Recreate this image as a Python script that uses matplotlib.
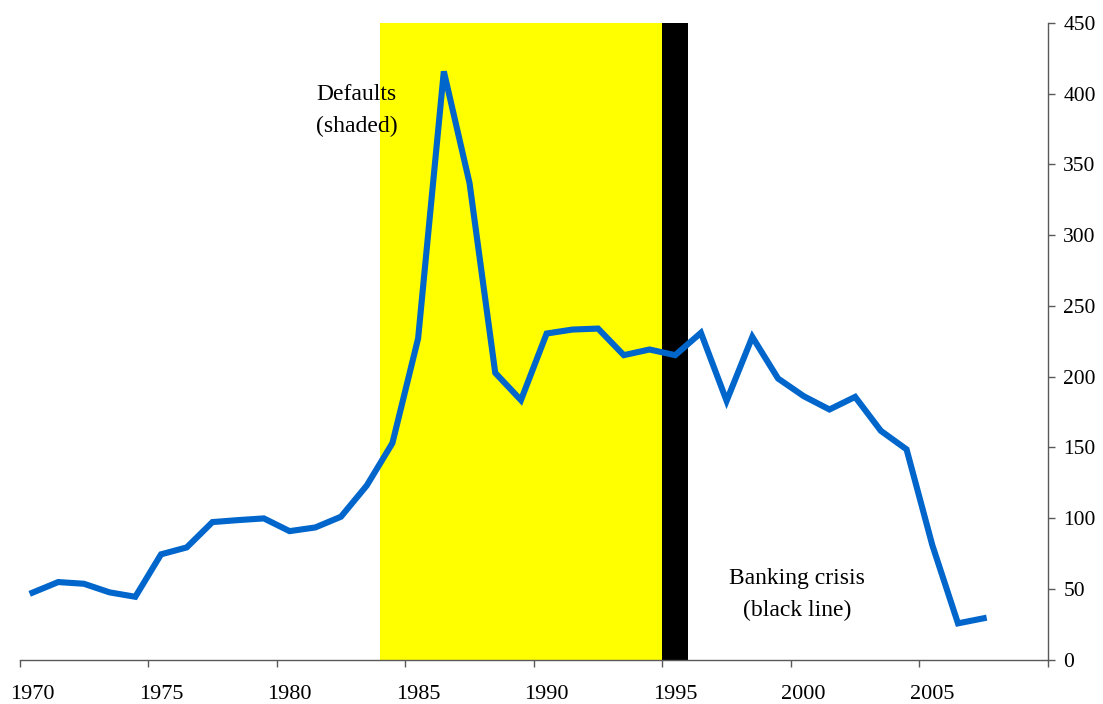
import matplotlib.pyplot as plt
import numpy as np

# Data
years = list(range(1970, 2008))
values = [47.3, 54.8, 53.6, 47.5, 44.4, 74.4, 79.3, 97.2, 98.6, 99.8,
          90.8, 93.4, 101.0, 123.0, 153.0, 227.0, 415.8, 336.9, 202.7, 183.4,
          230.5, 233.3, 234.0, 215.2, 219.2, 215.2, 231.0, 182.9, 228.1, 198.7,
          186.2, 176.8, 185.7, 161.7, 148.6, 81.0, 25.6, 29.2]
default_years = list(range(1984, 1995))   # shaded yellow
crisis_years = [1995]                     # black band
tick_labels = [1970, 1975, 1980, 1985, 1990, 1995, 2000, 2005]
y_ticks = list(range(0, 451, 50))

plt.rcParams['font.family'] = ['Liberation Serif', 'DejaVu Serif']

fig = plt.figure(figsize=(11.03, 7.04), dpi=100)
ax = fig.add_axes([0.0178, 0.0631, 0.9323, 0.9042])

# default / crisis bands
ax.axvspan(min(default_years) - 0.5, max(default_years) + 0.5, color='#FFFF00', lw=0, zorder=1)
ax.axvspan(min(crisis_years) - 0.5, max(crisis_years) + 0.5, color='black', lw=0, zorder=1)

ax.plot(years, values, color='#0066CC', lw=4.4, solid_joinstyle='miter', zorder=3)

ax.set_xlim(1969.5, 2009.5)
ax.set_ylim(0, 450)

# spines
for s in ['left', 'top']:
    ax.spines[s].set_visible(False)
axis_col = '#595959'
ax.spines['bottom'].set_color(axis_col)
ax.spines['right'].set_color(axis_col)
ax.spines['bottom'].set_linewidth(1.0)
ax.spines['right'].set_linewidth(1.0)

# y axis on the right
ax.yaxis.tick_right()
ax.set_yticks(y_ticks)
ax.tick_params(axis='y', direction='out', length=5, width=1.0, color=axis_col,
               labelsize=15.5, pad=6)

# x: tick marks at category boundaries, labels at category centres
ax.set_xticks(np.arange(1969.5, 2010, 5))
ax.set_xticklabels([])
ax.set_xticks(tick_labels, minor=True)
ax.set_xticklabels([str(t) for t in tick_labels], minor=True)
ax.tick_params(axis='x', which='major', direction='out', length=5, width=1.0, color=axis_col)
ax.tick_params(axis='x', which='minor', length=0, labelsize=16, pad=18)

ax.text(1982.6, 388, 'Defaults\n(shaded)', ha='center', va='center', fontsize=17,
        linespacing=1.7, zorder=4)
ax.text(1999.75, 46, 'Banking crisis\n(black line)', ha='center', va='center', fontsize=17,
        linespacing=1.7, zorder=4)

fig.savefig('out.png', dpi=100)
